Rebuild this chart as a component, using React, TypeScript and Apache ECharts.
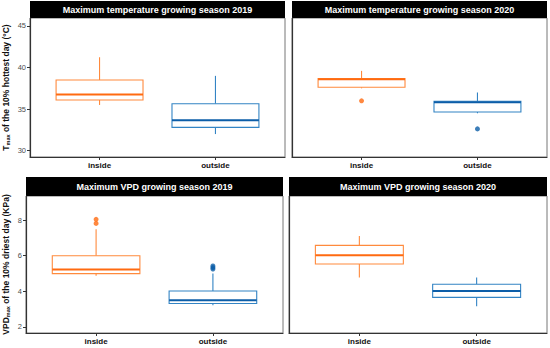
import React, { useEffect, useRef } from "react";
import * as echarts from "echarts";

const categories = ["inside", "outside"];
// [min, Q1, median, Q3, max]
const tmax2019 = [
  [35.5, 36.1, 36.75, 38.5, 41.24],
  [32.0, 32.8, 33.65, 35.65, 39.0],
];
const tmax2019Outliers: number[][] = [];
const tmax2020 = [
  [37.5, 37.63, 38.6, 38.67, 39.6],
  [34.5, 34.66, 35.83, 35.95, 37.0],
];
const tmax2020Outliers = [
  [1, 36.0],
  [2, 32.62],
];
const vpd2019 = [
  [4.88, 4.99, 5.23, 6.0, 7.48],
  [3.22, 3.32, 3.5, 4.02, 5.0],
];
const vpd2019Outliers = [
  [1, 7.81],
  [1, 8.04],
  [2, 5.25],
  [2, 5.33],
  [2, 5.42],
];
const vpd2020 = [
  [4.78, 5.53, 6.02, 6.58, 7.1],
  [3.16, 3.66, 4.02, 4.4, 4.77],
];
const vpd2020Outliers: number[][] = [];

const panelTitles = [
  "Maximum temperature growing season 2019",
  "Maximum temperature growing season 2020",
  "Maximum VPD growing season 2019",
  "Maximum VPD growing season 2020",
];
const tempTicks = [30, 35, 40, 45];
const vpdTicks = [2, 4, 6, 8];

const LIGHT = ["#FF8A3D", "#3384C4"];
const DARK = ["#FF6A10", "#0D5EA8"];
const FONT = "Liberation Sans";

const grids = [
  { left: 30, top: 18, width: 255, height: 139 },
  { left: 292, top: 18, width: 255, height: 139 },
  { left: 26, top: 196, width: 257, height: 137 },
  { left: 289, top: 196, width: 258, height: 137 },
];

export default function App() {
  const ref = useRef<HTMLDivElement>(null);
  useEffect(() => {
    const chart = echarts.init(ref.current!, undefined, { renderer: "svg" });

    const renderBox = (params: any, api: any) => {
      const x = api.value(0);
      const lo = api.value(1);
      const q1 = api.value(2);
      const med = api.value(3);
      const q3 = api.value(4);
      const hi = api.value(5);
      const pLo = api.coord([x, lo]);
      const pQ1 = api.coord([x, q1]);
      const pMed = api.coord([x, med]);
      const pQ3 = api.coord([x, q3]);
      const pHi = api.coord([x, hi]);
      const half = api.size([0.75, 0])[0] / 2;
      const cx = pMed[0];
      const ci = x - 1;
      return {
        type: "group",
        children: [
          { type: "line", shape: { x1: cx, y1: pHi[1], x2: cx, y2: pQ3[1] }, style: { stroke: LIGHT[ci], lineWidth: 1.1 } },
          { type: "line", shape: { x1: cx, y1: pQ1[1], x2: cx, y2: pLo[1] }, style: { stroke: LIGHT[ci], lineWidth: 1.1 } },
          {
            type: "rect",
            shape: { x: cx - half, y: pQ3[1], width: 2 * half, height: pQ1[1] - pQ3[1] },
            style: { fill: "#fff", stroke: LIGHT[ci], lineWidth: 1.1 },
          },
          { type: "line", shape: { x1: cx - half, y1: pMed[1], x2: cx + half, y2: pMed[1] }, style: { stroke: DARK[ci], lineWidth: 2 } },
        ],
      };
    };

    const boxData = [tmax2019, tmax2020, vpd2019, vpd2020];
    const outData = [tmax2019Outliers, tmax2020Outliers, vpd2019Outliers, vpd2020Outliers];

    const xAxes = grids.map((_, i) => ({
      type: "value",
      gridIndex: i,
      min: 0.4,
      max: 2.6,
      splitLine: { show: false },
      axisLine: { show: true, lineStyle: { color: "#333", width: 1.2 } },
      axisTick: { show: true, customValues: [1, 2], length: 3, lineStyle: { color: "#333" } },
      axisLabel: {
        customValues: [1, 2],
        formatter: (v: number) => categories[Math.round(v) - 1],
        color: "#111",
        fontWeight: "bold",
        fontSize: 8,
        fontFamily: FONT,
        margin: 4,
      },
    }));

    const yName = (top: boolean) =>
      top
        ? "{a|T}{s|max}{a| of the 10% hottest day (°C)}"
        : "{a|VPD}{s|max}{a| of the 10% driest day (KPa)}";

    const yAxes = grids.map((_, i) => {
      const top = i < 2;
      const left = i % 2 === 0;
      const ticks = top ? tempTicks : vpdTicks;
      return {
        type: "value",
        gridIndex: i,
        min: top ? 29.24 : 1.66,
        max: top ? 45.96 : 9.35,
        splitLine: { show: false },
        axisLine: { show: true, lineStyle: { color: "#333", width: 1.2 } },
        axisTick: { show: left, customValues: ticks, length: 3, lineStyle: { color: "#333" } },
        axisLabel: {
          show: left,
          customValues: ticks,
          color: "#4D4D4D",
          fontSize: 7.5,
          fontFamily: FONT,
          margin: 4,
        },
        name: left ? yName(top) : "",
        nameLocation: "middle",
        nameRotate: 90,
        nameGap: top ? 19 : 15,
        nameTextStyle: {
          rich: {
            a: { fontSize: 8.5, fontWeight: "bold", fontFamily: FONT, color: "#111" },
            s: { fontSize: 5.5, fontWeight: "bold", fontFamily: FONT, color: "#111", verticalAlign: "bottom", padding: [4, 0, 0, 0] },
          },
        },
      };
    });

    const series: any[] = [];
    grids.forEach((_, i) => {
      series.push({
        type: "custom",
        xAxisIndex: i,
        yAxisIndex: i,
        renderItem: renderBox,
        encode: { x: 0, y: [1, 2, 3, 4, 5] },
        data: boxData[i].map((b, k) => [k + 1, ...b]),
        z: 2,
      });
      series.push({
        type: "scatter",
        xAxisIndex: i,
        yAxisIndex: i,
        symbolSize: 5,
        data: outData[i],
        itemStyle: { color: (p: any) => DARK[p.value[0] - 1] },
        z: 3,
      });
    });

    const stripGraphics: any[] = [];
    grids.forEach((g, i) => {
      const top = i < 2 ? 1 : 177;
      const h = g.top - top;
      stripGraphics.push({
        type: "rect",
        shape: { x: g.left, y: top, width: g.width, height: h },
        style: { fill: "#000" },
      });
      stripGraphics.push({
        type: "text",
        x: g.left + g.width / 2,
        y: top + h / 2,
        style: {
          text: panelTitles[i],
          fill: "#fff",
          font: `bold 9px "${FONT}"`,
          align: "center",
          verticalAlign: "middle",
        },
      });
      stripGraphics.push({
        type: "rect",
        shape: { x: g.left, y: g.top, width: g.width, height: g.height },
        style: { fill: "none", stroke: "#777", lineWidth: 1 },
        z: -1,
      });
    });

    chart.setOption({
      animation: false,
      backgroundColor: "#fff",
      grid: grids.map((g) => ({ ...g, containLabel: false })),
      xAxis: xAxes,
      yAxis: yAxes,
      series,
      graphic: stripGraphics,
    });
    return () => chart.dispose();
  }, []);
  return <div ref={ref} style={{ width: 550, height: 348, position: "absolute", left: 0, top: 0 }} />;
}
